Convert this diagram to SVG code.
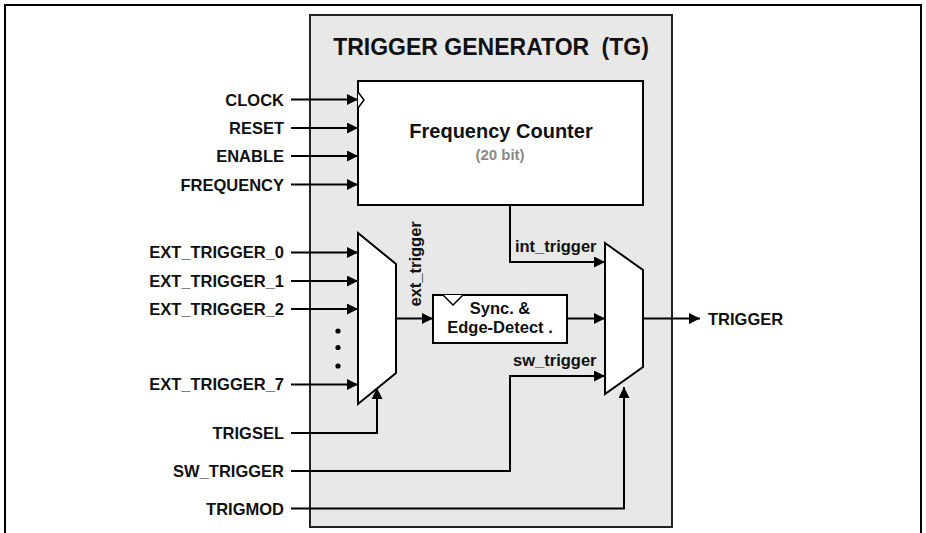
<svg xmlns="http://www.w3.org/2000/svg" width="926" height="533" viewBox="0 0 926 533">
<style>
.lbl{font-family:"Liberation Sans",Arial,sans-serif;font-weight:bold;font-size:16.5px;fill:#111}
.end{text-anchor:end}
.mid{text-anchor:middle}
.wire{fill:none;stroke:#000;stroke-width:2}
.arr{marker-end:url(#ah)}
.blk{fill:#fff;stroke:#000;stroke-width:2}
</style>
<defs>
<marker id="ah" markerUnits="userSpaceOnUse" markerWidth="11" markerHeight="11" refX="10" refY="5" orient="auto" viewBox="0 0 10 10">
<path d="M0,0 L10,5 L0,10 z" fill="#000"/>
</marker>
</defs>
<rect x="0" y="0" width="926" height="533" fill="#fff"/>
<rect id="frame" x="5" y="5" width="916" height="545" fill="none" stroke="#000" stroke-width="2"/>
<g id="tg">
<rect x="310" y="15" width="362" height="512" fill="#e8e8e8" stroke="#222" stroke-width="2"/>
<text class="lbl mid" x="491" y="55" style="font-size:23px">TRIGGER GENERATOR <tspan dx="6">(TG)</tspan></text>
</g>
<g id="freq-counter">
<rect class="blk" x="358" y="81" width="285" height="124"/>
<path d="M358,92 L364,100 L358,108" fill="#fff" stroke="#000" stroke-width="1.5"/>
<text class="lbl mid" x="501" y="138" style="font-size:20px">Frequency Counter</text>
<text class="lbl mid" x="500" y="160" style="font-size:15px;fill:#8a8a8a">(20 bit)</text>
</g>
<g id="mux-ext">
<path class="blk" d="M358,233 L396,264 L396,373 L358,404 z"/>
</g>
<g id="sync">
<rect class="blk" x="433" y="295" width="134" height="48"/>
<path d="M443,295 L453,305 L463,295" fill="#fff" stroke="#000" stroke-width="1.5"/>
<text class="lbl mid" x="500" y="314">Sync. &amp;</text>
<text class="lbl mid" x="500" y="333">Edge-Detect .</text>
</g>
<g id="mux-out">
<path class="blk" d="M605,243 L643,270 L643,367 L605,394 z"/>
</g>
<g id="inputs">
<text class="lbl end" x="284" y="105.5">CLOCK</text>
<text class="lbl end" x="284" y="134">RESET</text>
<text class="lbl end" x="284" y="162">ENABLE</text>
<text class="lbl end" x="284" y="190.5">FREQUENCY</text>
<text class="lbl end" x="284" y="258">EXT_TRIGGER_0</text>
<text class="lbl end" x="284" y="286.5">EXT_TRIGGER_1</text>
<text class="lbl end" x="284" y="315">EXT_TRIGGER_2</text>
<text class="lbl end" x="284" y="390">EXT_TRIGGER_7</text>
<text class="lbl end" x="284" y="439">TRIGSEL</text>
<text class="lbl end" x="284" y="477">SW_TRIGGER</text>
<text class="lbl end" x="284" y="514.5">TRIGMOD</text>
<circle cx="338" cy="331" r="2.6" fill="#000"/>
<circle cx="338" cy="347.5" r="2.6" fill="#000"/>
<circle cx="338" cy="366" r="2.6" fill="#000"/>
</g>
<g id="output">
<text class="lbl" x="708" y="324.5">TRIGGER</text>
</g>
<g id="connectors">
<path class="wire arr" d="M291,99.5 H358"/>
<path class="wire arr" d="M291,128 H358"/>
<path class="wire arr" d="M291,156 H358"/>
<path class="wire arr" d="M291,184.5 H358"/>
<path class="wire arr" d="M291,252.5 H358"/>
<path class="wire arr" d="M291,281 H358"/>
<path class="wire arr" d="M291,309 H358"/>
<path class="wire arr" d="M291,384.5 H358"/>
<path class="wire arr" d="M291,433 H377 V388"/>
<path class="wire arr" d="M291,471 H510 V376 H605"/>
<path class="wire arr" d="M291,508.5 H624 V387"/>
<path class="wire arr" d="M510,205 V262 H605"/>
<path class="wire arr" d="M396,318.5 H433"/>
<path class="wire arr" d="M567,318.5 H605"/>
<path class="wire arr" d="M643,318.5 H700"/>
<text class="lbl" transform="translate(421,306.5) rotate(-90)">ext_trigger</text>
<text class="lbl end" x="596.5" y="252">int_trigger</text>
<text class="lbl end" x="596.5" y="366">sw_trigger</text>
</g>
</svg>
